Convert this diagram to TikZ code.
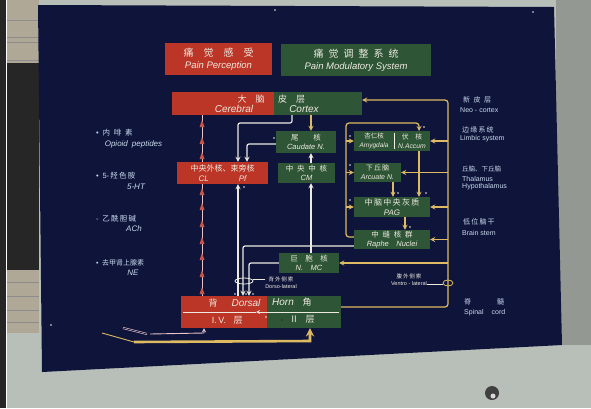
\documentclass[tikz,border=0pt]{standalone}
\usepackage{fontspec}
\setmainfont{Liberation Sans}
\newfontfamily\cjk{Noto Sans CJK SC}
\usepackage{xcolor}

\definecolor{poster}{RGB}{14,20,58}
\definecolor{boxred}{RGB}{188,54,40}
\definecolor{boxgreen}{RGB}{46,86,54}
\definecolor{gold}{RGB}{222,186,98}
\definecolor{chalk}{RGB}{238,234,224}
\definecolor{pinkline}{RGB}{232,196,200}
\definecolor{legend}{RGB}{202,218,238}
\definecolor{wall}{RGB}{184,190,184}
\definecolor{beige}{RGB}{176,168,150}

\begin{document}
\begin{tikzpicture}[x=1pt, y=-1pt, >=stealth,
    every node/.style={inner sep=0pt},
    redbox/.style={fill=boxred},
    greenbox/.style={fill=boxgreen},
    boxtxt/.style={text=chalk, align=center, font=\fontsize{7.5}{9.5}\selectfont\itshape},
    cntxt/.style={text=chalk, font=\fontsize{9}{10}\selectfont\cjk},
    entxt/.style={text=chalk, font=\fontsize{10}{11}\selectfont\itshape},
    side/.style={text=legend, anchor=west, font=\fontsize{7}{8}\selectfont},
    wline/.style={draw=chalk, line width=1.2pt, rounded corners=2pt},
    gline/.style={draw=gold, line width=1.2pt, rounded corners=3pt},
    pline/.style={draw=pinkline, line width=0.9pt}]
    \useasboundingbox (0,0) rectangle (591,408);

    % wall and poster
    \fill[wall] (0,0) rectangle (591,408);
    \fill[wall!80!black] (556,0) rectangle (591,345);
    \fill[black!85] (0,0) rectangle (6,408);
    \draw[white, line width=0.8pt] (6.5,0) -- (6.5,408);
    \fill[beige] (7,0) rectangle (39,63);
    \fill[black!85] (7,63) rectangle (39,270);
    \fill[beige] (7,270) rectangle (39,333);
    \foreach \y in {20,37,42,60,282,296,310,322}
        \draw[black!45, line width=0.6pt] (7,\y) -- (39,\y);
    \fill[poster] (38,5) -- (554,7) -- (562,345) -- (42,372) -- cycle;
    \fill[black!75] (492,393) circle (7);
    \fill[white!85!black] (493,396) circle (2.5);
    \foreach \p in {(275,10),(533,12),(51,325)}
        \fill[chalk] \p circle (0.9);

    % titles
    \node[redbox, minimum width=107pt, minimum height=32pt, boxtxt, font=\fontsize{9.5}{12}\selectfont\itshape] (perc) at (218.5,59)
        {{\cjk\upshape\fontsize{10}{12}\selectfont 痛\quad 觉\quad 感\quad 受}\\Pain Perception};
    \node[greenbox, minimum width=150pt, minimum height=32pt, boxtxt, font=\fontsize{9.5}{12}\selectfont\itshape] (modsys) at (356,60)
        {{\cjk\upshape\fontsize{10}{12}\selectfont 痛\enspace 觉\enspace 调\enspace 整\enspace 系\enspace 统}\\Pain Modulatory System};

    % cerebral cortex
    \node[redbox, minimum width=102pt, minimum height=23pt] (cortexL) at (223,103.5) {};
    \node[greenbox, minimum width=88pt, minimum height=23pt] (cortexR) at (318,103.5) {};
    \node[cntxt] (cortexLcn) at (251,99) {大\quad 脑};
    \node[entxt] (cortexLen) at (234,109) {Cerebral};
    \node[cntxt] (cortexRcn) at (291.5,99) {皮\quad 层};
    \node[entxt] (cortexRen) at (304,109) {Cortex};

    % nuclei
    \node[greenbox, minimum width=60pt, minimum height=22pt, boxtxt] (caud) at (306,142)
        {{\cjk\upshape 尾\qquad 核}\\Caudate N.};
    \node[greenbox, minimum width=40pt, minimum height=20pt, boxtxt, font=\fontsize{6.5}{8.5}\selectfont\itshape] (amyg) at (374,141)
        {{\cjk\upshape 杏仁核}\\Amygdala};
    \node[greenbox, minimum width=36pt, minimum height=20pt, boxtxt, font=\fontsize{6.8}{8.5}\selectfont\itshape] (accum) at (412,141)
        {{\cjk\upshape 伏\quad 核}\\N.Accum};
    \draw[chalk!70, line width=0.5pt] ([yshift=-2pt]amyg.north east) -- ([yshift=2pt]amyg.south east);
    \node[redbox, minimum width=91pt, minimum height=22pt, boxtxt, font=\fontsize{8}{10}\selectfont\itshape] (clpf) at (222.5,173)
        {{\cjk\upshape 中央外核、束旁核}\\CL\hspace{30pt}Pf};
    \node[greenbox, minimum width=57pt, minimum height=20pt, boxtxt] (cm) at (306.5,173)
        {{\cjk\upshape 中\enspace 央\enspace 中\enspace 核}\\CM};
    \node[greenbox, minimum width=47pt, minimum height=19pt, boxtxt, font=\fontsize{7}{9}\selectfont\itshape] (arc) at (377.5,172.5)
        {{\cjk\upshape 下\,丘\,脑}\\Arcuate N.};
    \node[greenbox, minimum width=76pt, minimum height=20pt, boxtxt, font=\fontsize{8}{10}\selectfont\itshape] (pag) at (392,207)
        {{\cjk\upshape 中\,脑\,中\,央\,灰\,质}\\PAG};
    \node[greenbox, minimum width=76pt, minimum height=19pt, boxtxt, font=\fontsize{7.5}{9.5}\selectfont\itshape] (raphe) at (392,239.5)
        {{\cjk\upshape 中\enspace 缝\enspace 核\enspace 群}\\Raphe\quad Nuclei};
    \node[greenbox, minimum width=60pt, minimum height=20pt, boxtxt] (nmc) at (309,263)
        {{\cjk\upshape 巨\quad 胞\quad 核}\\N.\quad MC};

    % dorsal horn
    \node[redbox, minimum width=86pt, minimum height=32pt] (hornL) at (224,312) {};
    \node[greenbox, minimum width=74pt, minimum height=32pt] (hornR) at (304,312) {};
    \node[cntxt] (hornA) at (213,303) {背};
    \node[entxt] (hornB) at (246,303) {Dorsal};
    \node[entxt] (hornC) at (283,302) {Horn};
    \node[cntxt] (hornD) at (307,302) {角};
    \node[entxt, font=\fontsize{9}{10}\selectfont] (hornE) at (219,320) {I.\,V.};
    \node[cntxt] (hornF) at (238,320) {层};
    \node[cntxt] (hornG) at (294,319) {Ⅱ};
    \node[cntxt] (hornH) at (310,319) {层};
    \fill[chalk] (266,317) circle (0.9);
    \fill[black!80] (282,320) circle (1.2);
    \coordinate (hornmid) at (256,312);
    \draw[wline, line width=0.8pt, ->] ([xshift=-2pt]hornR.east) -- (hornmid);
    \draw[wline, line width=0.8pt] (hornmid) -- ([xshift=2pt]hornL.west);

    % line columns
    \coordinate (redx) at (202,0);
    \coordinate (ascx) at (238,0);
    \coordinate (pfx) at (247,0);
    \coordinate (caudx) at (311,0);
    \coordinate (arcx) at (393,0);
    \coordinate (pagx) at (405,0);
    \coordinate (acctop) at (419,131);
    \coordinate (rphx) at (243,246);
    \coordinate (nmcx) at (249,263);
    \coordinate (ctxdown) at (292,123);
    \coordinate (clin) at (238,123);
    \coordinate (rloop) at (448,307);
    \coordinate (rtop) at (448,100);
    \coordinate (lloop) at (346,123);
    \coordinate (lbot) at (346,237);

    % ascending red pathway
    \draw[pline] (hornL.north -| redx) -- (clpf.south -| redx);
    \draw[pline] (clpf.north -| redx) -- (cortexL.south -| redx);
    \foreach \y in {120,137,152,188,203,220,237,253,270,287}
        \fill[boxred!85!white] (202,\y) -- ++(-2.5,7) -- ++(5,0) -- cycle;

    % white pathways
    \draw[wline, ->] (cortexR.south -| ctxdown) -- (ctxdown) -- (clin) -- (clpf.north -| clin);
    \draw[wline, ->] ([yshift=-2pt]caud.west) -- ([yshift=-2pt]caud.west -| pfx) -- (clpf.north -| pfx);
    \draw[wline, ->] (cm.north -| caudx) -- (caud.south -| caudx);
    \draw[wline, ->] (nmc.north -| caudx) -- (cm.south -| caudx);
    \draw[wline, ->] (hornL.north -| ascx) -- (clpf.south -| ascx);
    \draw[wline, ->] (raphe.west |- rphx) -- (rphx) -- (hornL.north -| rphx);
    \draw[wline, ->] (nmc.west) -- (nmc.west -| nmcx) -- (hornL.north -| nmcx);

    % gold pathways
    \draw[gline, ->] (cortexR.south -| caudx) -- (caud.north -| caudx);
    \draw[gline, ->] ([yshift=5pt]hornR.east) -- (rloop) -- (rtop) -- (cortexR.east |- rtop);
    \draw[gline, ->] (rloop |- accum) -- (accum.east);
    \draw[gline, ->] (rloop |- arc) -- (arc.east);
    \draw[gline, ->] (rloop |- pag) -- (pag.east);
    \draw[gline, ->] (rloop |- raphe) -- (raphe.east);
    \draw[gline, ->] (rloop |- nmc) -- (nmc.east);
    \draw[gline, ->] (raphe.west |- lbot) -- (lbot) -- (lloop) -- (lloop -| acctop) -- (acctop);
    \draw[gline, ->] (lloop |- amyg) -- (amyg.west);
    \draw[gline, ->] (lloop |- arc) -- (arc.west);
    \draw[gline, ->] (lloop |- pag) -- (pag.west);
    \draw[gline, ->] (accum.south -| acctop) -- (pag.north -| acctop);
    \draw[gline, ->] (arc.south -| arcx) -- (pag.north -| arcx);
    \draw[gline, ->] (pag.south -| pagx) -- (raphe.north -| pagx);

    % small markers
    \foreach \p in {(274,138),(350,136),(424,127),(350,165),(398,193),(426,193),(350,200),(410,227),(244,187),(235,294),(246,294),(253,294)}
        \fill[chalk] \p circle (0.9);

    % tracts
    \draw[chalk, line width=0.8pt] (244,281) ellipse (9 and 3);
    \node[text=chalk, align=center, font=\fontsize{5.5}{7}\selectfont] (dlat) at (281,282.5)
        {{\cjk 背\,外\,侧\,索}\\Dorso-lateral};
    \draw[chalk, line width=0.5pt] (253,279) -- (dlat.west |- 0,279);
    \draw[gold, line width=0.8pt] (448,283) ellipse (5 and 3);
    \node[text=chalk, align=center, font=\fontsize{5.5}{7}\selectfont] (vlat) at (409,280)
        {{\cjk 腹\,外\,侧\,索}\\Ventro - lateral};
    \draw[chalk, line width=0.5pt] (vlat.east |- 0,284) -- (443,284);

    % afferent fibres
    \coordinate (cfib) at (134,342);
    \coordinate (inx) at (310,341);
    \coordinate (adel) at (150,334);
    \coordinate (adx) at (204,333);
    \draw[gold, line width=2.6pt, ->] (cfib) -- (inx) -- (hornR.south -| inx);
    \draw[gold, line width=0.9pt] (102,333) -- (cfib);
    \draw[pline, ->] (adel) -- (adx) -- (hornL.south -| adx);
    \draw[pinkline, line width=0.6pt, double=poster, double distance=0.8pt] (123,328) -- (147,334);

    % left legend
    \node[side, font=\fontsize{7.5}{8}\selectfont] (opiCN) at (96,133) {•\enspace{\cjk 内\enspace 啡\enspace 素}};
    \node[side, anchor=center, font=\fontsize{8}{9}\selectfont\itshape] (opiEN) at (133.5,144) {Opioid\enspace peptides};
    \node[side, font=\fontsize{7.5}{8}\selectfont] (htCN) at (96,176) {•\enspace 5-\,{\cjk 羟\,色\,胺}};
    \node[side, anchor=center, font=\fontsize{8}{9}\selectfont\itshape] (htEN) at (136,187) {5-HT};
    \node[side, font=\fontsize{7.5}{8}\selectfont] (achCN) at (96,219) {-\enspace{\cjk 乙\,酰\,胆\,碱}};
    \node[side, anchor=center, font=\fontsize{8}{9}\selectfont\itshape] (achEN) at (134,229) {ACh};
    \node[side, font=\fontsize{7}{8}\selectfont] (neCN) at (96,263) {•\enspace{\cjk 去甲肾上腺素}};
    \node[side, anchor=center, font=\fontsize{8}{9}\selectfont\itshape] (neEN) at (133,273) {NE};

    % right legend
    \node[side] (neoCN) at (463,100) {{\cjk 新\enspace 皮\enspace 层}};
    \node[side] (neoEN) at (460,110) {Neo - cortex};
    \node[side] (limCN) at (462,130) {{\cjk 边\,缘\,系\,统}};
    \node[side] (limEN) at (460,139) {Limbic system};
    \node[side, font=\fontsize{6.5}{8}\selectfont] (thCN) at (462,169) {{\cjk 丘脑、下丘脑}};
    \node[side] (thEN) at (462,179) {Thalamus};
    \node[side] (hyEN) at (462,187) {Hypothalamus};
    \node[side] (bsCN) at (463,222) {{\cjk 低\,位\,脑\,干}};
    \node[side] (bsEN) at (462,233) {Brain stem};
    \node[side] (scCN) at (464,302) {{\cjk 脊}\hspace{26pt}{\cjk 髓}};
    \node[side] (scEN) at (464,313) {Spinal\hspace{8pt}cord};
\end{tikzpicture}
\end{document}
